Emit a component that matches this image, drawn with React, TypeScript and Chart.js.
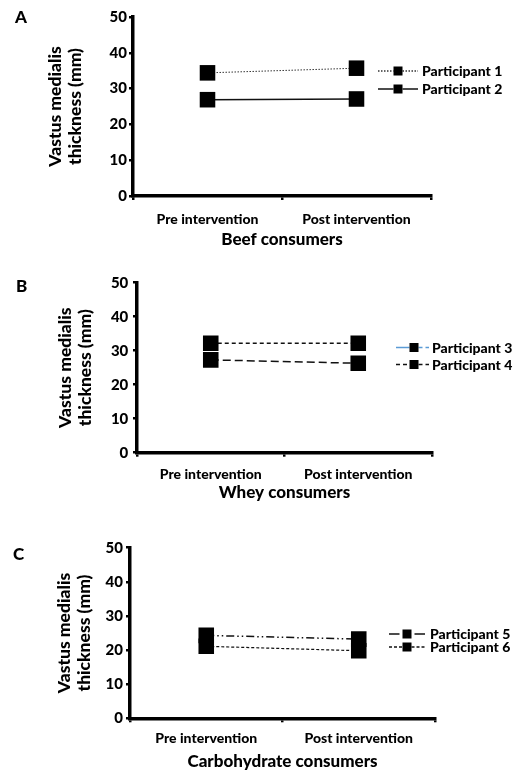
import React, { useEffect, useRef } from 'react';
import { Chart, registerables } from 'chart.js';

Chart.register(...registerables);

// ---- data ----
const categories = ['Pre intervention', 'Post intervention'];
const yMin = 0;
const yMax = 50;
const yStep = 10;

const participant1 = [34.4, 35.7];
const participant2 = [26.9, 27.1];
const participant3 = [32.2, 32.2];
const participant4 = [27.3, 26.3];
const participant5 = [24.3, 23.2];
const participant6 = [21.1, 19.8];

const panelLetters = ['A', 'B', 'C'];
const panelTitles = ['Beef consumers', 'Whey consumers', 'Carbohydrate consumers'];
const yTitle = ['Vastus medialis', 'thickness (mm)'];

const FONT = 'Lato, "Open Sans", sans-serif';
const WEIGHT = '900';
const W = 521;
const H = 258;

type Series = { label: string; data: number[]; dash: number[]; width: number; color: string };
type LegendStyle = { color: string; leftDash: number[] | null; rightDash: number[] | null; gap: number };

type Panel = {
  top: number;
  letter: string;
  title: string;
  series: Series[];
  legendStyles: LegendStyle[];
  area: { l: number; r: number; t: number; b: number };
  yTitlePad: number;
  yTickPad: number;
  xTickPad: number;
  xTitlePad: number;
  letterPos: [number, number];
  legend: { ys: number[]; x1: number; x2: number; mx: number; tx: number };
};

const panels: Panel[] = [
  {
    top: 0,
    letter: panelLetters[0],
    title: panelTitles[0],
    series: [
      { label: 'Participant 1', data: participant1, dash: [1.5, 1.5], width: 1, color: '#333' },
      { label: 'Participant 2', data: participant2, dash: [], width: 1.5, color: '#111' },
    ],
    legendStyles: [
      { color: '#333', leftDash: [1.5, 1.5], rightDash: [1.5, 1.5], gap: 0 },
      { color: '#111', leftDash: [], rightDash: [], gap: 0 },
    ],
    area: { l: 133, r: 431, t: 17, b: 196 },
    yTitlePad: 45,
    yTickPad: 2,
    xTickPad: 11.1,
    xTitlePad: 7.8,
    letterPos: [15, 18],
    legend: { ys: [71, 89], x1: 378, x2: 418, mx: 398, tx: 422 },
  },
  {
    top: 258,
    letter: panelLetters[1],
    title: panelTitles[1],
    series: [
      { label: 'Participant 3', data: participant3, dash: [4, 3], width: 1.5, color: '#111' },
      { label: 'Participant 4', data: participant4, dash: [8, 4], width: 1.5, color: '#111' },
    ],
    legendStyles: [
      { color: '#5b9bd5', leftDash: [], rightDash: [4, 3], gap: 0 },
      { color: '#111', leftDash: [4, 3], rightDash: [4, 3], gap: 0 },
    ],
    area: { l: 137, r: 432, t: 24.7, b: 194.7 },
    yTitlePad: 55,
    yTickPad: 4.7,
    xTickPad: 8.9,
    xTitlePad: 12.8,
    letterPos: [16, 28.7],
    legend: { ys: [89.5, 106.5], x1: 396, x2: 429, mx: 414, tx: 432 },
  },
  {
    top: 516,
    letter: panelLetters[2],
    title: panelTitles[2],
    series: [
      { label: 'Participant 5', data: participant5, dash: [8, 3, 1.5, 3, 1.5, 3], width: 1.5, color: '#111' },
      { label: 'Participant 6', data: participant6, dash: [3, 2], width: 1.2, color: '#111' },
    ],
    legendStyles: [
      { color: '#111', leftDash: [], rightDash: [], gap: 3 },
      { color: '#111', leftDash: [3, 2], rightDash: [3, 2], gap: 0 },
    ],
    area: { l: 130, r: 435, t: 31.7, b: 202.3 },
    yTitlePad: 54,
    yTickPad: 3,
    xTickPad: 7.6,
    xTitlePad: 2.1,
    letterPos: [13, 39],
    legend: { ys: [118, 131], x1: 389, x2: 425, mx: 407, tx: 430 },
  },
];

const decorPlugin = {
  id: 'decor',
  afterDraw(chart: any, _args: any, opts: any) {
    const p: Panel = opts.panel;
    if (!p) return;
    const ctx = chart.ctx as CanvasRenderingContext2D;
    ctx.save();
    ctx.fillStyle = '#000';
    ctx.font = `${WEIGHT} 17px ${FONT}`;
    ctx.textAlign = 'left';
    ctx.textBaseline = 'middle';
    ctx.fillText(p.letter, p.letterPos[0], p.letterPos[1]);

    const { ys, x1, x2, mx, tx } = p.legend;
    const ms = 9;
    p.series.forEach((s, i) => {
      const st = p.legendStyles[i];
      const y = ys[i];
      ctx.strokeStyle = st.color;
      ctx.lineWidth = 1.5;
      if (st.leftDash) {
        ctx.setLineDash(st.leftDash);
        ctx.beginPath();
        ctx.moveTo(x1, y);
        ctx.lineTo(mx - ms / 2 - st.gap, y);
        ctx.stroke();
      }
      if (st.rightDash) {
        ctx.setLineDash(st.rightDash);
        ctx.beginPath();
        ctx.moveTo(mx + ms / 2 + st.gap, y);
        ctx.lineTo(x2, y);
        ctx.stroke();
      }
      ctx.setLineDash([]);
      ctx.fillStyle = '#000';
      ctx.fillRect(mx - ms / 2, y - ms / 2, ms, ms);
      ctx.font = `${WEIGHT} 14px ${FONT}`;
      ctx.textBaseline = 'middle';
      ctx.fillText(s.label, tx, y + 0.5);
    });
    ctx.restore();
  },
};

function PanelChart({ p }: { p: Panel }) {
  const ref = useRef<HTMLCanvasElement | null>(null);
  useEffect(() => {
    if (!ref.current) return;
    const { l, r, t, b } = p.area;
    const chart = new Chart(ref.current, {
      type: 'line',
      data: {
        labels: categories,
        datasets: p.series.map((s) => ({
          label: s.label,
          data: s.data,
          borderColor: s.color,
          borderWidth: s.width,
          borderDash: s.dash,
          pointStyle: 'rect',
          pointRadius: 11,
          pointBackgroundColor: '#000',
          pointBorderColor: '#000',
          pointBorderWidth: 0,
          fill: false,
          tension: 0,
        })),
      },
      options: {
        responsive: false,
        animation: false,
        devicePixelRatio: 1,
        layout: { padding: { top: t, right: W - r, left: 0, bottom: 0 } },
        plugins: {
          legend: { display: false },
          tooltip: { enabled: false },
          decor: { panel: p },
        } as any,
        scales: {
          x: {
            type: 'category',
            offset: true,
            grid: {
              offset: true,
              drawOnChartArea: false,
              drawTicks: true,
              tickLength: 4,
              lineWidth: 2.5,
              color: '#000',
            },
            border: { display: true, width: 3.5, color: '#000' },
            ticks: {
              color: '#000',
              padding: p.xTickPad,
              font: { family: FONT, size: 14, weight: WEIGHT },
              maxRotation: 0,
              autoSkip: false,
            },
            title: {
              display: true,
              text: p.title,
              color: '#000',
              font: { family: FONT, size: 17, weight: WEIGHT },
              padding: { top: 0, bottom: p.xTitlePad },
            },
            afterFit: (scale: any) => {
              scale.height = H - b;
            },
          },
          y: {
            min: yMin,
            max: yMax,
            grid: {
              drawOnChartArea: false,
              drawTicks: true,
              tickLength: 4,
              lineWidth: 2.5,
              color: '#000',
            },
            border: { display: true, width: 3.5, color: '#000' },
            ticks: {
              stepSize: yStep,
              color: '#000',
              padding: p.yTickPad,
              font: { family: FONT, size: 15, weight: WEIGHT },
            },
            title: {
              display: true,
              text: yTitle,
              color: '#000',
              font: { family: FONT, size: 17.5, weight: WEIGHT, lineHeight: 1.15 },
              padding: { top: p.yTitlePad, bottom: 0 },
            },
            afterFit: (scale: any) => {
              scale.width = l;
            },
          },
        },
      },
      plugins: [decorPlugin],
    } as any);
    return () => chart.destroy();
  }, [p]);
  return (
    <canvas
      ref={ref}
      width={W}
      height={H}
      style={{ position: 'absolute', left: 0, top: p.top, width: W, height: H }}
    />
  );
}

export default function App() {
  return (
    <div style={{ position: 'absolute', left: 0, top: 0, width: W, height: 774, background: '#fff', overflow: 'hidden' }}>
      {panels.map((p) => (
        <PanelChart key={p.letter} p={p} />
      ))}
    </div>
  );
}
